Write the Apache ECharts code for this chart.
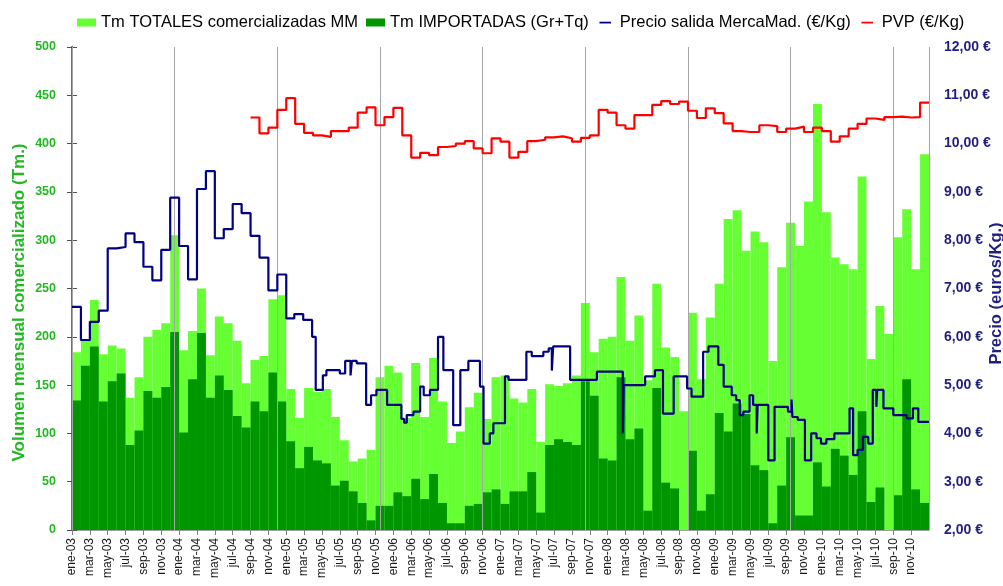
<!DOCTYPE html>
<html>
<head>
<meta charset="utf-8">
<script src="https://cdn.jsdelivr.net/npm/echarts@6/dist/echarts.min.js"></script>
<style>
  html, body { margin: 0; padding: 0; background: #ffffff; }
  #chart { width: 1003px; height: 586px; }
</style>
</head>
<body>
<div id="chart"></div>
<script>
// Month labels (ene-03 ... dic-10)
const monthNames = ['ene','feb','mar','abr','may','jun','jul','ago','sep','oct','nov','dic'];
const yearSuffixes = ['03','04','05','06','07','08','09','10'];
const categories = yearSuffixes.flatMap(y => monthNames.map(m => m + '-' + y));

// Monthly volume traded (Tm)
const totales = [
  184,195,238,182,191,188,137,158,200,207,214,305,
  186,206,250,181,221,214,196,152,176,180,239,243,
  146,116,147,143,146,117, 93, 71, 74, 83,158,170,
  163,116,173,117,178,133, 90,102,127,142,115,158,
  160,136,132,146, 91,151,149,152,160,235,184,198,
  200,262,196,222,155,255,189,179,123,225,156,220,
  255,322,331,289,309,298,175,272,318,294,340,441,
  329,282,275,270,366,177,232,203,303,332,270,389
];
const importadas = [
  134,170,190,133,154,162, 88,103,144,137,148,205,
  101,156,204,137,160,145,118,106,133,123,163,133,
   92, 64, 86, 72, 69, 46, 51, 40, 28, 10, 25, 25,
   39, 35, 53, 32, 58, 28,  7,  7, 25, 27, 39, 42,
   27, 40, 40, 60, 18, 88, 94, 91, 88,154,139, 74,
   72,158, 94,105, 20,147, 49, 43,  0, 82, 20, 37,
  121,102,131,120, 67, 62,  7, 46, 96, 15, 15, 70,
   45, 84, 77, 57,123, 29, 44,  0, 36,156, 42, 28
];

// Wholesale exit price at MercaMadrid (€/Kg): time in months since ene-03, value
const precioMes = [
  0,1,2,3,4,5,6,7,8,9,10,11,12,13,14,15,16,17,18,19,20,21,22,23,
  24,24.9,25.9,26.9,27.3,28.1,28.5,30.0,30.6,31.2,31.35,31.9,32.95,33.5,34.1,35.3,
  36.9,37.2,37.5,38.25,39.0,39.4,40.1,41.0,41.6,42.7,43.5,44.4,45.7,46.1,46.8,47.2,
  48.5,48.9,50.9,51.5,52.8,53.4,53.75,53.9,55.8,58.8,61.7,61.8,64.2,65.3,66.2,67.4,
  68.9,69.4,70.7,71.3,72.4,73.0,73.9,74.4,74.8,75.2,75.9,76.3,76.7,76.8,78.0,78.7,
  80.2,80.6,80.7,81.3,82.1,82.8,83.4,83.9,84.5,85.4,87.1,87.5,88.0,88.6,89.2,89.7,
  90.1,90.2,90.9,92.0,93.5,94.2,94.8,96
];
const precioValor = [
  6.62,5.93,6.31,6.54,7.83,7.86,8.14,7.96,7.45,7.17,7.80,8.88,7.88,7.19,9.06,9.43,8.04,8.23,8.75,8.56,8.09,7.64,6.96,7.29,
  6.38,6.47,6.35,6.00,4.90,5.20,5.31,5.24,5.50,5.20,5.50,5.45,4.59,4.79,4.90,4.59,
  4.30,4.22,4.38,4.45,4.97,4.79,4.90,6.00,5.31,4.17,5.31,5.50,4.97,3.79,4.00,4.21,
  5.18,5.11,5.69,5.60,5.69,5.76,5.30,5.80,5.11,5.28,4.00,5.00,5.18,5.31,4.41,5.18,
  4.93,4.76,5.69,5.80,5.42,4.97,4.79,4.69,4.38,4.45,4.79,4.59,4.00,4.59,3.44,4.55,
  4.45,4.70,4.34,4.28,3.44,4.00,3.90,3.79,3.88,4.00,4.52,3.55,3.66,3.93,3.79,4.90,
  4.55,4.90,4.52,4.38,4.31,4.52,4.24,4.24
];

// Retail price PVP (€/Kg), monthly from sep-04
const pvpDesde = 'sep-04';
const pvp = [
  10.54,10.21,10.33,10.70,
  10.94,10.41,10.22,10.17,10.14,10.26,10.26,10.33,10.64,10.75,10.38,10.55,
  10.74,10.17, 9.71, 9.81, 9.76, 9.93, 9.95,10.00,10.05, 9.90, 9.80,10.11,
  10.04, 9.71, 9.83,10.05,10.08,10.13,10.15,10.11,10.04,10.12,10.17,10.70,
  10.64,10.38,10.31,10.59,10.59,10.80,10.88,10.82,10.87,10.68,10.53,10.73,
  10.63,10.42,10.26,10.24,10.24,10.38,10.36,10.24,10.31,10.35,10.24,10.33,
  10.26,10.04,10.15,10.31,10.41,10.52,10.49,10.55,10.56,10.54,10.55,10.85
];

// Axis ranges
const volMin = 0, volMax = 500, volStep = 50;
const precioMin = 2, precioMax = 12, precioStep = 1;

const nMeses = categories.length;
const precioData = precioMes.map((t, i) => [t, precioValor[i]]);
const pvpStart = categories.indexOf(pvpDesde);
const pvpData = pvp.map((v, i) => [pvpStart + i, v]);
pvpData.push([nMeses, pvp[pvp.length - 1]]);

const font = 'Liberation Sans, Arial, sans-serif';
const verde = '#22b822';
const azul = '#1f1f80';
// Legend glyph for the price lines: a short thin stroke centred in the icon box
const lineIcon = 'path://M0,0 M3,3.6 L16,3.6 L16,5.6 L3,5.6 Z M19,9';

const chart = echarts.init(document.getElementById('chart'), null, { renderer: 'canvas' });
chart.setOption({
  animation: false,
  backgroundColor: '#ffffff',
  textStyle: { fontFamily: font },
  legend: {
    top: 9,
    left: 72,
    itemWidth: 19,
    itemHeight: 8,
    itemGap: 8,
    textStyle: { fontFamily: font, fontSize: 16.5, color: '#000000' },
    data: [
      { name: 'Tm TOTALES comercializadas MM', icon: 'rect' },
      { name: 'Tm IMPORTADAS (Gr+Tq)', icon: 'rect' },
      { name: 'Precio salida MercaMad. (€/Kg)', icon: lineIcon },
      { name: 'PVP (€/Kg)', icon: lineIcon }
    ]
  },
  grid: { left: 72, right: 74, top: 47, bottom: 56, containLabel: false, outerBoundsMode: 'none' },
  xAxis: [
    {
      type: 'category',
      position: 'bottom',
      data: categories,
      boundaryGap: true,
      show: false
    },
    {
      type: 'value',
      position: 'bottom',
      min: 0, max: nMeses, interval: 2,
      axisLine: { show: true, lineStyle: { color: '#808080', width: 1.5 } },
      axisTick: { show: true, length: 5, lineStyle: { color: '#808080' } },
      splitLine: { show: false },
      axisLabel: {
        rotate: 90,
        fontFamily: font,
        fontSize: 12,
        color: '#1a1a1a',
        margin: 8,
        showMaxLabel: false,
        formatter: v => categories[Math.round(v)] || ''
      }
    },
    {
      type: 'value',
      position: 'bottom',
      min: 0, max: nMeses, interval: 11.5,
      z: 3,
      axisLine: { show: false },
      axisTick: { show: false },
      axisLabel: { show: false },
      splitLine: { show: true, lineStyle: { color: '#a6a6a6', width: 1 } }
    }
  ],
  yAxis: [
    {
      type: 'value',
      min: volMin, max: volMax, interval: volStep,
      name: 'Volumen mensual comercializado (Tm.)',
      nameLocation: 'middle',
      nameRotate: 90,
      nameGap: 44,
      nameMoveOverlap: false,
      nameTextStyle: { color: verde, fontWeight: 'bold', fontSize: 17, fontFamily: font, padding: [0, 28, 0, 0] },
      axisLine: { show: true, lineStyle: { color: '#707070', width: 2 } },
      axisTick: { show: true, length: 5, lineStyle: { color: '#505050' } },
      splitLine: { show: false },
      axisLabel: { color: verde, fontWeight: 'bold', fontSize: 12.5, fontFamily: font, margin: 16 }
    },
    {
      type: 'value',
      position: 'right',
      min: precioMin, max: precioMax, interval: precioStep,
      name: 'Precio (euros/Kg.)',
      nameLocation: 'middle',
      nameRotate: 90,
      nameGap: 59,
      nameMoveOverlap: false,
      nameTextStyle: { color: azul, fontWeight: 'bold', fontSize: 16.5, fontFamily: font, padding: [0, 10, 0, 0] },
      axisLine: { show: true, lineStyle: { color: '#707070', width: 2 } },
      axisTick: { show: true, length: 5, lineStyle: { color: '#505050' } },
      splitLine: { show: false },
      axisLabel: {
        color: azul, fontWeight: 'bold', fontSize: 14, fontFamily: font, margin: 15,
        formatter: v => v.toFixed(2).replace('.', ',') + ' €'
      }
    }
  ],
  series: [
    {
      name: 'Tm TOTALES comercializadas MM',
      type: 'bar',
      xAxisIndex: 0, yAxisIndex: 0,
      data: totales,
      itemStyle: { color: '#66ff33' },
      barCategoryGap: '0%',
      barGap: '-100%'
    },
    {
      name: 'Tm IMPORTADAS (Gr+Tq)',
      type: 'bar',
      xAxisIndex: 0, yAxisIndex: 0,
      data: importadas,
      itemStyle: { color: '#009600' },
      barCategoryGap: '0%',
      barGap: '-100%'
    },
    {
      name: 'Precio salida MercaMad. (€/Kg)',
      type: 'line',
      xAxisIndex: 1, yAxisIndex: 1,
      step: 'end',
      symbol: 'none',
      z: 5,
      data: precioData,
      itemStyle: { color: '#000080' },
      lineStyle: { color: '#000080', width: 2.2 }
    },
    {
      name: 'PVP (€/Kg)',
      type: 'line',
      xAxisIndex: 1, yAxisIndex: 1,
      step: 'end',
      symbol: 'none',
      z: 5,
      data: pvpData,
      itemStyle: { color: '#ff0000' },
      lineStyle: { color: '#ff0000', width: 2.2 }
    }
  ]
});
</script>
</body>
</html>
